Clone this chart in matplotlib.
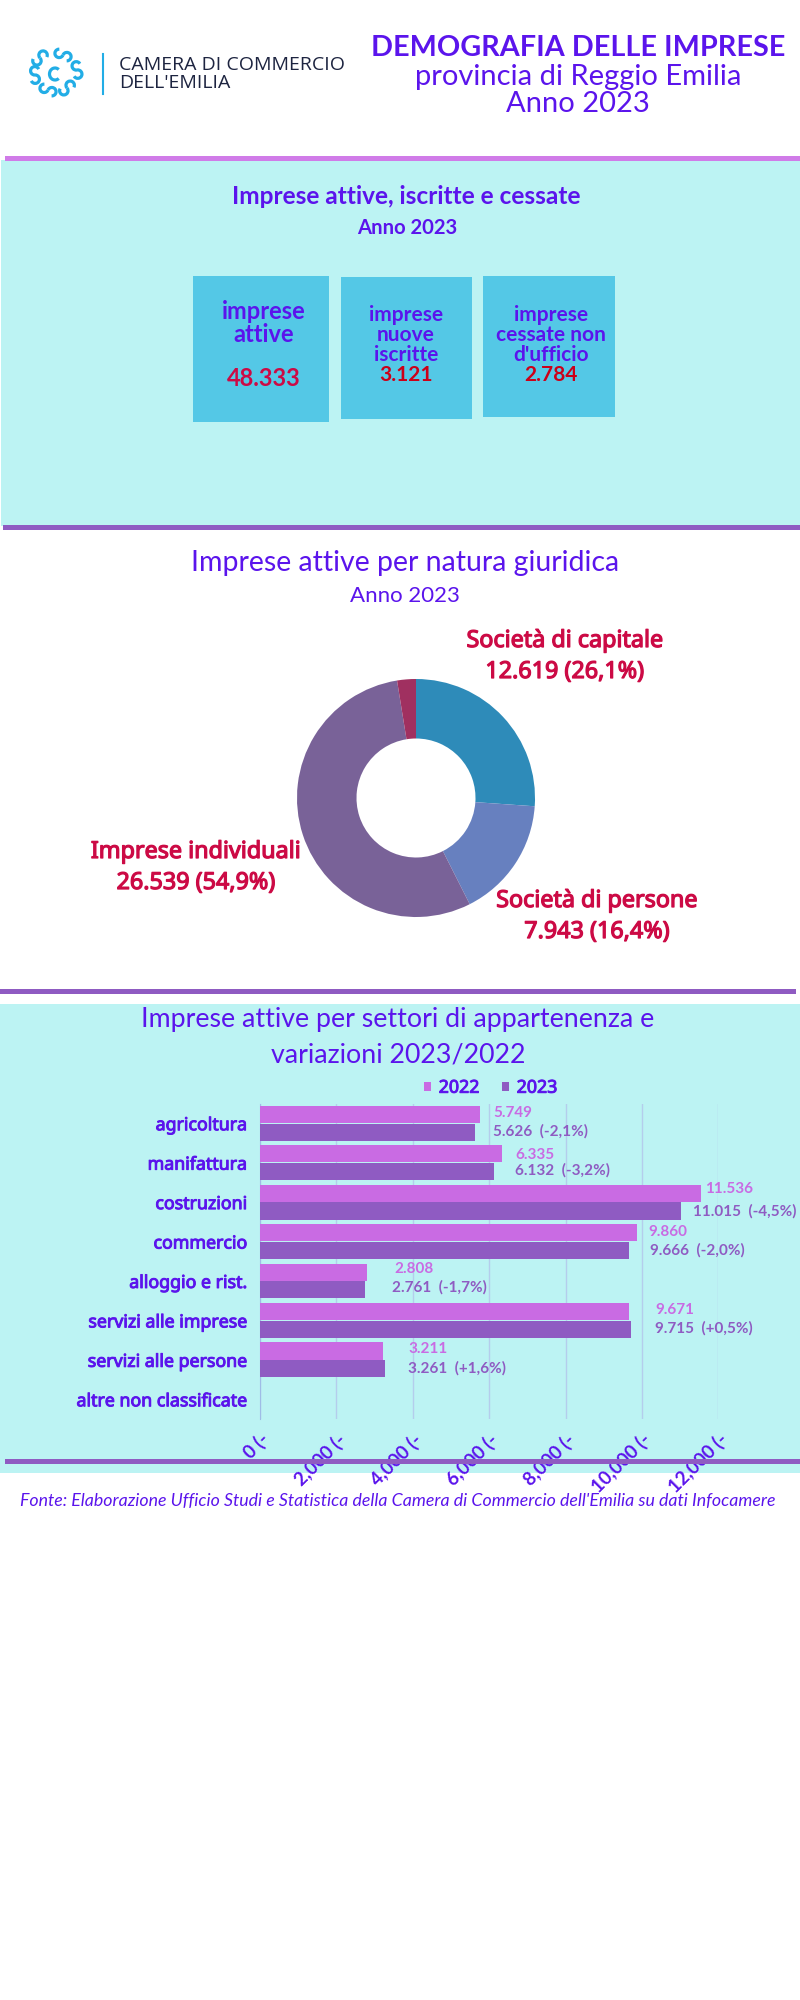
import math
import matplotlib
matplotlib.use('Agg')
import matplotlib.pyplot as plt
import matplotlib.patheffects as pe
from matplotlib.patches import Rectangle, Arc

# colori
VIOLA = '#5b14ec'
ROSSO = '#cc0a45'
CIANO = '#bcf3f3'
AZZURRO = '#54c8e6'
LILLA = '#c96be3'
PORPORA = '#8f5bc2'

# dati
box_titoli = ['imprese\nattive', 'imprese\nnuove\niscritte', 'imprese\ncessate non\nd\'ufficio']
box_valori = ['48.333', '3.121', '2.784']

natura_nomi = ['Società di capitale', 'Società di persone', 'Imprese individuali', 'Altre forme']
natura_val = [12619, 7943, 26539, 1232]
natura_pct = ['26,1%', '16,4%', '54,9%']
natura_col = ['#2e8bb9', '#6780bf', '#796298', '#a03060']

settori = ['agricoltura', 'manifattura', 'costruzioni', 'commercio', 'alloggio e rist.',
           'servizi alle imprese', 'servizi alle persone', 'altre non classificate']
val_2022 = [5749, 6335, 11536, 9860, 2808, 9671, 3211, 0]
val_2023 = [5626, 6132, 11015, 9666, 2761, 9715, 3261, 0]
variaz = ['-2,1%', '-3,2%', '-4,5%', '-2,0%', '-1,7%', '+0,5%', '+1,6%']
tick_val = [0, 2000, 4000, 6000, 8000, 10000, 12000]
tick_lab = ['0 (-', '2,000 (-', '4,000 (-', '6,000 (-', '8,000 (-', '10,000 (-', '12,000 (-']

# posizioni in pixel delle etichette (nell'originale sono messe a mano)
pos_2022 = [(493, 1113), (515, 1155), (705, 1189), (648, 1232), (394, 1269), (655, 1310), (408, 1349)]
pos_2023 = [(493, 1131), (515, 1170), (693, 1211), (650, 1250), (392, 1287), (655, 1328), (408, 1368)]

W, H = 800, 2000
fig = plt.figure(figsize=(8, 20), dpi=100, facecolor='white')


def px_axes(x0, y0, x1, y1, **kw):
    return fig.add_axes([x0 / W, 1 - y1 / H, (x1 - x0) / W, (y1 - y0) / H], **kw)


# sfondo e livello sopra, entrambi in coordinate pixel
bg = fig.add_axes([0, 0, 1, 1], zorder=0)
top = fig.add_axes([0, 0, 1, 1], zorder=5)
for a in (bg, top):
    a.set_xlim(0, W)
    a.set_ylim(H, 0)
    a.axis('off')
    a.patch.set_alpha(0)


def testo(x, y, s, size, color=VIOLA, weight='normal', ha='center', style='normal', fam='Lato', sp=1.05):
    return top.text(x, y, s, fontsize=size, color=color, fontweight=weight, ha=ha, va='center',
                    style=style, family=fam, linespacing=sp)


# Noto Sans qui ha solo il regular: il grassetto si fa con un contorno
def grasso(t, lw=0.9):
    t.set_path_effects([pe.withStroke(linewidth=lw, foreground=t.get_color())])


# pannelli
bg.add_patch(Rectangle((1, 160), 799, 366, color=CIANO, lw=0))
bg.add_patch(Rectangle((0, 1004), 800, 469, color=CIANO, lw=0))
top.add_patch(Rectangle((5, 156), 795, 4.5, color='#d07be8', lw=0))
top.add_patch(Rectangle((3, 525), 797, 4.5, color=PORPORA, lw=0))
top.add_patch(Rectangle((0, 989), 796, 4.5, color=PORPORA, lw=0))
top.add_patch(Rectangle((5, 1459), 795, 4.5, color=PORPORA, lw=0))

# logo: sei ganci a S attorno a una C
LOGO = '#22ade6'
centri = [(40, 58), (63, 55), (77, 70), (67, 88), (48, 90), (35, 75)]
for cx, cy in centri:
    ang = math.atan2(cy - 74, cx - 55) + math.pi / 2
    ux, uy = 4.2 * math.cos(ang), 4.2 * math.sin(ang)
    deg = math.degrees(ang)
    bg.add_patch(Arc((cx + ux, cy + uy), 8.4, 8.4, angle=deg, theta1=180, theta2=430, color=LOGO, lw=2.3))
    bg.add_patch(Arc((cx - ux, cy - uy), 8.4, 8.4, angle=deg, theta1=0, theta2=250, color=LOGO, lw=2.3))
bg.add_patch(Arc((55, 74), 11, 12, theta1=50, theta2=310, color=LOGO, lw=2.3))
bg.plot([102.5, 102.5], [54, 94], color=LOGO, lw=1.5)
testo(119, 65, 'CAMERA DI COMMERCIO', 14, color='#1d2440', ha='left', fam='Open Sans')
testo(119, 83, "DELL'EMILIA", 14, color='#1d2440', ha='left', fam='Open Sans')

# intestazione
testo(578, 48, 'DEMOGRAFIA DELLE IMPRESE', 20.7, weight='bold')
testo(578, 77, 'provincia di Reggio Emilia', 21)
testo(578, 104, 'Anno 2023', 21)

# sezione 1
testo(406, 197, 'Imprese attive, iscritte e cessate', 17.6, weight='bold')
testo(407, 228, 'Anno 2023', 14.6, weight='bold')
box = [(193, 276, 136, 146), (341, 277, 131, 142), (483, 276, 132, 141)]
for x, y, w, h in box:
    bg.add_patch(Rectangle((x, y), w, h, color=AZZURRO, lw=0))
testo(264, 323, box_titoli[0], 17, weight='bold', sp=1.05)
testo(406, 335, box_titoli[1], 15, weight='bold', sp=1.02)
testo(551, 335, box_titoli[2], 15, weight='bold', sp=1.02)
testo(264, 378, box_valori[0], 17, color=ROSSO, weight='bold')
testo(406, 375, box_valori[1], 15, color='#cc0018', weight='bold')
testo(551, 375, box_valori[2], 15, color='#cc0018', weight='bold')

# ciambella
testo(405, 563, 'Imprese attive per natura giuridica', 20.5)
testo(405, 596, 'Anno 2023', 16)
ax_pie = px_axes(297, 679, 535, 917, zorder=2)
ax_pie.pie(natura_val, colors=natura_col, startangle=90, counterclock=False, radius=1,
           wedgeprops=dict(width=0.5, linewidth=0))
ax_pie.set_xlim(-1, 1)
ax_pie.set_ylim(-1, 1)
et_pos = [(565, 641, 672), (597, 901, 932), (196, 852, 883)]
for (x, y1, y2), nome, v, p in zip(et_pos, natura_nomi, natura_val, natura_pct):
    grasso(testo(x, y1, nome, 16.8, color=ROSSO, fam='Noto Sans'))
    v_txt = f'{v:,}'.replace(',', '.')
    grasso(testo(x, y2, f'{v_txt} ({p})', 16.8, color=ROSSO, fam='Noto Sans'))

# barre
testo(398, 1019, 'Imprese attive per settori di appartenenza e', 19.3)
testo(398, 1055, 'variazioni 2023/2022', 19.3)
ax = px_axes(260, 1103.5, 718.4, 1419, zorder=2)
ax.patch.set_alpha(0)
y = list(range(len(settori)))
b1 = ax.barh([i - 0.225 for i in y], val_2022, height=0.435, color=LILLA, label='2022', zorder=3)
b2 = ax.barh([i + 0.225 for i in y], val_2023, height=0.435, color=PORPORA, label='2023', zorder=3)
ax.set_xlim(0, 12000)
ax.set_ylim(len(settori) - 0.5, -0.5)
ax.set_yticks(y)
ax.set_yticklabels(settori, fontsize=12.8, color=VIOLA, family='Noto Sans')
for t in ax.get_yticklabels():
    grasso(t, 0.7)
ax.set_xticks(tick_val)
ax.set_xticklabels(tick_lab, rotation=45, ha='right', va='top', rotation_mode='anchor',
                   fontsize=13.5, fontweight='bold', color=VIOLA, family='Lato')
ax.tick_params(axis='x', length=0, pad=8)
ax.tick_params(axis='y', length=0, pad=9)
ax.grid(axis='x', color='#b4cdec', lw=1, zorder=0)
for s in ('top', 'right', 'bottom'):
    ax.spines[s].set_visible(False)
ax.spines['left'].set_color('#9fbce6')
leg = ax.legend(handles=[b1, b2], loc='center left', bbox_to_anchor=(0.322, 1.05), ncols=2, frameon=False,
                handlelength=0.4, handleheight=0.4, handletextpad=0.45, columnspacing=1.25, labelcolor=VIOLA,
                prop=dict(family='Noto Sans', size=12.8))
for t in leg.get_texts():
    grasso(t, 0.7)

for (px, py), v in zip(pos_2022, val_2022):
    testo(px, py, f'{v:,}'.replace(',', '.'), 11, color=LILLA, weight='bold', ha='left')
for (px, py), v, p in zip(pos_2023, val_2023, variaz):
    testo(px, py, f'{v:,}'.replace(',', '.') + f'  ({p})', 11, color=PORPORA, weight='bold', ha='left')

testo(398, 1501, "Fonte: Elaborazione Ufficio Studi e Statistica della Camera di Commercio dell'Emilia su dati Infocamere",
      12.8, style='italic')

fig.savefig('out.png', dpi=100)
